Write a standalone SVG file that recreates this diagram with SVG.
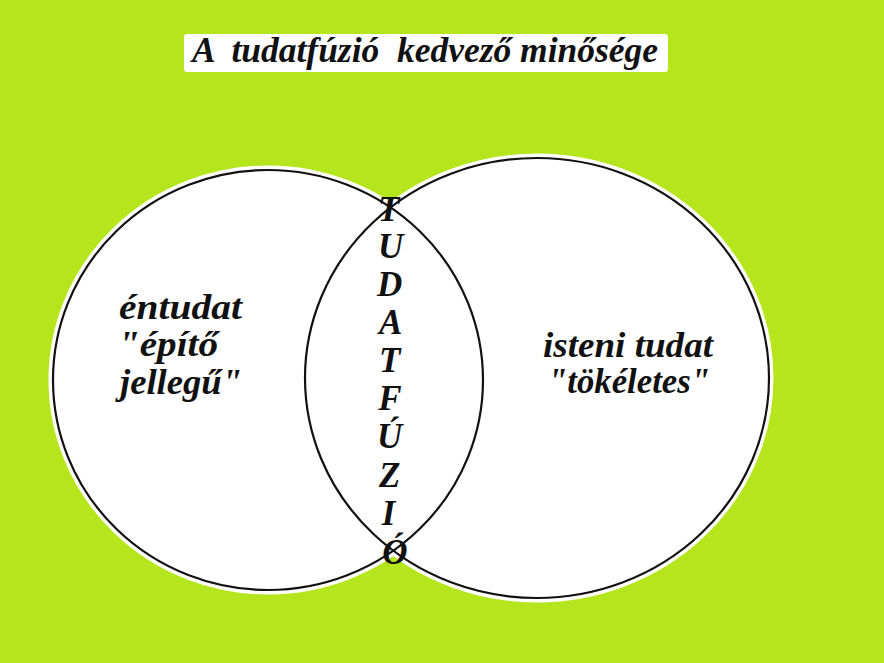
<svg xmlns="http://www.w3.org/2000/svg" width="884" height="663" viewBox="0 0 884 663">
<style>
.t{font-family:"Liberation Serif","Times New Roman",serif;font-weight:bold;font-style:italic;fill:#111}
.halo{fill:#fff;stroke:#fff;stroke-width:9}
.ring{fill:none;stroke:#111;stroke-width:2.2}
</style>
<rect width="884" height="663" fill="#b5e61d"/>
<g id="title">
<rect x="184" y="34" width="484" height="38" rx="3" fill="#fff"/>
<text class="t" x="192" y="62" font-size="36" textLength="466" lengthAdjust="spacingAndGlyphs" xml:space="preserve">A  tudatfúzió  kedvező minősége</text>
</g>
<g id="halos">
<ellipse class="halo" cx="268" cy="380" rx="215" ry="210"/>
<ellipse class="halo" cx="537" cy="378" rx="232" ry="220"/>
</g>
<g id="circle-left">
<ellipse class="ring" cx="268" cy="380" rx="215" ry="210"/>
<text class="t" font-size="35">
<tspan x="119" y="319" textLength="123" lengthAdjust="spacingAndGlyphs">éntudat</tspan>
<tspan x="118" y="356" textLength="100" lengthAdjust="spacingAndGlyphs">"építő</tspan>
<tspan x="120" y="394" textLength="122" lengthAdjust="spacingAndGlyphs">jellegű"</tspan>
</text>
</g>
<g id="circle-right">
<ellipse class="ring" cx="537" cy="378" rx="232" ry="220"/>
<text class="t" font-size="35">
<tspan x="543" y="357" textLength="170" lengthAdjust="spacingAndGlyphs">isteni tudat</tspan>
<tspan x="548" y="393" textLength="162" lengthAdjust="spacingAndGlyphs">"tökéletes"</tspan>
</text>
</g>
<g id="overlap">
<text class="t" font-size="35" text-anchor="middle">
<tspan x="393" y="221">T</tspan>
<tspan x="395" y="258">U</tspan>
<tspan x="394" y="296">D</tspan>
<tspan x="394" y="334">A</tspan>
<tspan x="394" y="372">T</tspan>
<tspan x="394" y="410">F</tspan>
<tspan x="394" y="448">Ú</tspan>
<tspan x="394" y="487">Z</tspan>
<tspan x="393" y="525">I</tspan>
<tspan x="395" y="564">Ó</tspan>
</text>
</g>
</svg>
